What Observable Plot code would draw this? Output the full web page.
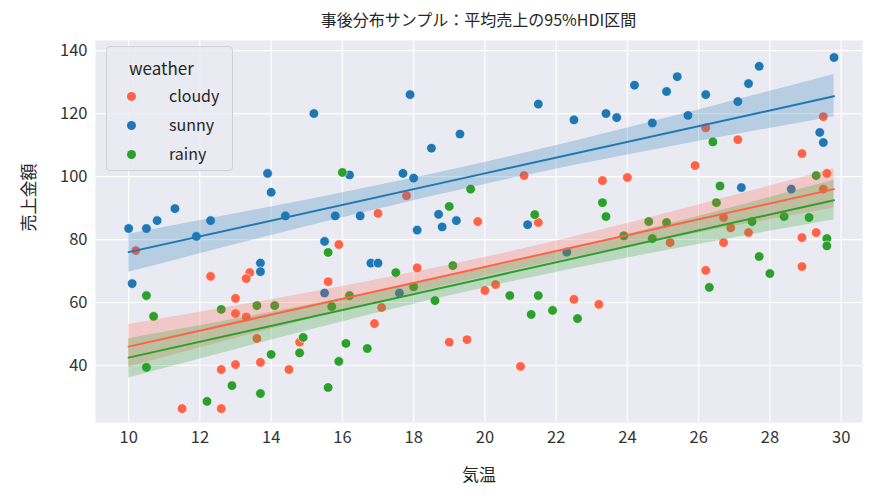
<!DOCTYPE html>
<html><head><meta charset="utf-8">
<script src="https://cdn.jsdelivr.net/npm/d3@7"></script>
<script src="https://cdn.jsdelivr.net/npm/@observablehq/plot@0.6"></script>
<style>
body{margin:0;background:#fff;font-family:"Noto Sans CJK JP","DejaVu Sans",sans-serif;}
#wrap{position:relative;width:882px;height:498px;}
#title{position:absolute;top:7px;left:95px;width:767px;text-align:center;font-size:16px;color:#262626;}
#legend{position:absolute;left:106px;top:46px;width:127px;height:125px;background:rgba(234,234,242,0.85);border:1px solid #d0d0d8;border-radius:4px;box-sizing:border-box;font-size:16px;color:#262626;}
#legend .t{position:absolute;left:22px;top:8px;font-size:17px;}
#legend .r{position:absolute;left:62px;}
#legend .d{position:absolute;left:20px;width:9px;height:9px;border-radius:50%;}
</style></head><body>
<div id="wrap"><div id="chart"></div><div id="title">事後分布サンプル：平均売上の95%HDI区間</div>
<div id="legend"><div class="t">weather</div>
<div class="d" style="top:45px;background:#ff6347"></div><div class="r" style="top:36px">cloudy</div>
<div class="d" style="top:74px;background:#1f77b4"></div><div class="r" style="top:65px">sunny</div>
<div class="d" style="top:103px;background:#2ca02c"></div><div class="r" style="top:94px">rainy</div>
</div></div>
<script>
const weathers=["cloudy","sunny","rainy"];
const colors=["#ff6347","#1f77b4","#2ca02c"];
const sunnyX=[10.0,10.1,10.5,10.8,11.3,11.9,12.3,13.9,14.0,14.4,15.2,15.5,15.8,16.2,16.5,13.7,13.7,16.8,17.0,17.7,17.9,18.0,18.1,18.5,18.7,18.8,19.2,19.3,15.5,17.6,21.5,21.2,22.5,23.4,23.7,24.2,24.7,25.1,25.4,25.7,26.2,27.1,27.4,27.7,27.2,28.6,29.4,29.5,29.8,22.3];
const sunnyY=[83.5,66,83.5,86,89.8,81,86,101,95,87.5,120,79.4,87.5,100.5,87.5,72.5,69.8,72.5,72.5,101,126,99.5,83,109,88,84,86,113.5,63,63,123,84.7,118,120,118.7,129,117,127,131.7,119.4,126,123.8,129.5,135,96.5,96,114,110.8,137.8,76];
const cloudyX=[10.2,12.3,13.4,13.3,13.0,13.0,13.3,13.6,14.8,15.6,15.9,17.0,17.8,18.1,17.1,16.9,19.0,19.5,11.5,12.6,12.6,13.0,13.7,14.5,19.8,21.1,21.5,20.0,20.3,21.0,22.5,23.2,23.3,24.0,25.2,25.9,26.2,26.2,26.7,26.9,26.7,27.1,27.4,28.9,28.9,28.9,29.3,29.5,29.6,29.5];
const cloudyY=[76.5,68.3,69.5,67.6,61.3,56.5,55.4,48.6,47.4,66.6,78.4,88.3,93.9,71,58.4,53.3,47.4,48.2,26.3,26.3,38.7,40.3,41,38.7,85.7,100.3,85.4,63.8,65.7,39.7,61,59.4,98.7,99.7,79,103.5,115.5,70.2,87,83.7,79,111.7,82.2,107.3,80.6,71.4,82.2,119,101,96];
const rainyX=[10.5,10.7,10.5,12.6,13.6,14.1,12.9,12.2,13.7,14.0,14.8,14.9,15.6,16.0,15.7,16.2,16.1,15.9,15.6,16.7,17.5,18.0,18.6,19.1,19.0,19.6,21.4,20.7,21.5,21.3,21.9,22.6,23.3,23.4,23.9,24.6,24.7,25.1,26.4,26.6,26.5,26.3,27.5,27.7,28.0,28.4,29.1,29.3,29.6,29.6];
const rainyY=[62.2,55.6,39.4,57.8,59,59,33.6,28.6,31.1,43.5,44,48.9,75.9,101.3,58.7,62.2,47,41.3,33,45.4,69.5,65,60.6,71.7,90.5,96,87.9,62.2,62.2,56.2,57.5,54.9,91.7,87.3,81.2,85.7,80.3,85.4,111,97,91.7,64.8,85.7,74.6,69.2,87.3,87,100.3,80.3,78];
const bandX=[10,20,29.8];
const cloudyMean=[46,71.3,96], cloudyLo=[39.5,68.3,90], cloudyHi=[53,74.3,102.5];
const sunnyMean=[76,101,125.5], sunnyLo=[69.6,97.5,119], sunnyHi=[81.7,104.5,132.4];
const rainyMean=[42.5,67.7,92.5], rainyLo=[36,64.7,86.3], rainyHi=[48.5,70.7,98.8];

const pts=[], band=[];
const P={cloudy:[cloudyX,cloudyY],sunny:[sunnyX,sunnyY],rainy:[rainyX,rainyY]};
const B={cloudy:[cloudyMean,cloudyLo,cloudyHi],sunny:[sunnyMean,sunnyLo,sunnyHi],rainy:[rainyMean,rainyLo,rainyHi]};
for(const w of weathers){P[w][0].forEach((x,i)=>pts.push({w,x,y:P[w][1][i]}));
 bandX.forEach((x,i)=>band.push({w,x,m:B[w][0][i],lo:B[w][1][i],hi:B[w][2][i]}));}
const chart=Plot.plot({
 width:882,height:498,marginLeft:95,marginRight:20,marginTop:40,marginBottom:76,
 style:{background:"#fff",fontSize:"16.5px",color:"#333",fontFamily:"Noto Sans CJK JP, DejaVu Sans"},
 x:{domain:[9.07,30.6],ticks:d3.range(10,31,2),label:null,tickSize:0,tickPadding:9},
 y:{domain:[21.9,143.2],ticks:d3.range(40,141,20),label:null,tickSize:0,tickPadding:8},
 color:{domain:weathers,range:colors},
 marks:[
  Plot.frame({fill:"#eaeaf2",stroke:null}),
  Plot.gridX(d3.range(10,31,2),{stroke:"#fff",strokeOpacity:1,strokeWidth:1.2}),
  Plot.gridY(d3.range(40,141,20),{stroke:"#fff",strokeOpacity:1,strokeWidth:1.2}),
  Plot.dot(pts,{x:"x",y:"y",fill:"w",r:4.8,stroke:"#fff",strokeWidth:0.6}),
  Plot.areaY(band,{x:"x",y1:"lo",y2:"hi",fill:"w",fillOpacity:0.25,curve:"monotone-x"}),
  Plot.line(band,{x:"x",y:"m",stroke:"w",strokeWidth:2}),
  Plot.text(["気温"],{frameAnchor:"bottom",dy:58,fontSize:17,fill:"#262626"}),
  Plot.text(["売上金額"],{frameAnchor:"left",dx:-66,rotate:-90,fontSize:17,fill:"#262626"})
 ]});
document.getElementById("chart").appendChild(chart);
</script></body></html>
